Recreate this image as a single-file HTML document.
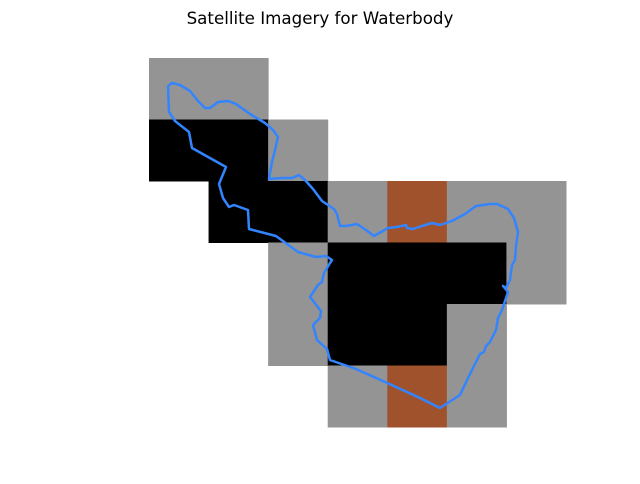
<!DOCTYPE html>
<html><head><meta charset="utf-8"><style>
body{margin:0;background:#fff;width:640px;height:480px;overflow:hidden;font-family:"DejaVu Sans",sans-serif}
</style></head><body>
<svg id="chart" width="640" height="480" xmlns="http://www.w3.org/2000/svg">
<text x="320" y="24" text-anchor="middle" font-size="16.7" font-family="DejaVu Sans, sans-serif">Satellite Imagery for Waterbody</text>
<g id="cells"></g>
<polyline id="outline" fill="none" stroke="#3385ff" stroke-width="2.5" stroke-linejoin="round"></polyline>
</svg>
<script>
// 0 = empty, 1 = gray (land), 2 = black (water), 3 = brown (soil)
const gridRows = [
  [1,1,0,0,0,0,0],
  [2,2,1,0,0,0,0],
  [0,2,2,1,3,1,1],
  [0,0,1,2,2,2,1],
  [0,0,1,2,2,1,0],
  [0,0,0,1,3,1,0]
];
const classColors = ["none","#949494","#000000","#a0522d"];
const outlineX = [168,172,180,190,198,205,210,218,228,236,250,265,273,278,275,272,270,269,282,292,299,305,313,322,334,337,340,346,357,366,374,381,388,397,406,407,413,422,432,440,452,465,476,490,497,508,514,518,516,515,512,510,506,503,508,502,498,496,490,486,484,480,470,460,440,420,385,356,330,327,317,313,320,321,310,318,322,324,330,332,326,316,298,276,249,248,234,229,223,219,226,192,189,175,169,168];
const outlineY = [86,83,85,91,101,108,108,102,101,104,114,123,130,137,150,162,173,179,178,178,175,180,189,201,209,214,226,226,224,230,236,232,228,227,225,228,229,226,223,225,221,214,206,204,204,209,218,232,246,260,265,280,288,286,292,310,318,330,342,346,352,354,374,395,408,398,382,369,360,349,340,325,318,311,297,285,282,273,263,260,256,257,252,236,229,210,205,207,198,184,167,148,132,121,112,86];

const x0 = 149, y0 = 58, cw = 59.57, ch = 61.5;
const colX = c => x0 + c * cw;
const rowY = r => y0 + r * ch;
const g = document.getElementById('cells');
gridRows.forEach((row, r) => row.forEach((v, c) => {
  if (!v) return;
  const rect = document.createElementNS('http://www.w3.org/2000/svg', 'rect');
  
  
  rect.setAttribute('x', colX(c));
  rect.setAttribute('y', rowY(r));
  rect.setAttribute('width', cw + 0.5);
  rect.setAttribute('height', ch + 0.5);
  rect.setAttribute('fill', classColors[v]);
  g.appendChild(rect);
}));
document.getElementById('outline').setAttribute('points', outlineX.map((x, i) => x + ',' + outlineY[i]).join(' '));
</script>
</body></html>
